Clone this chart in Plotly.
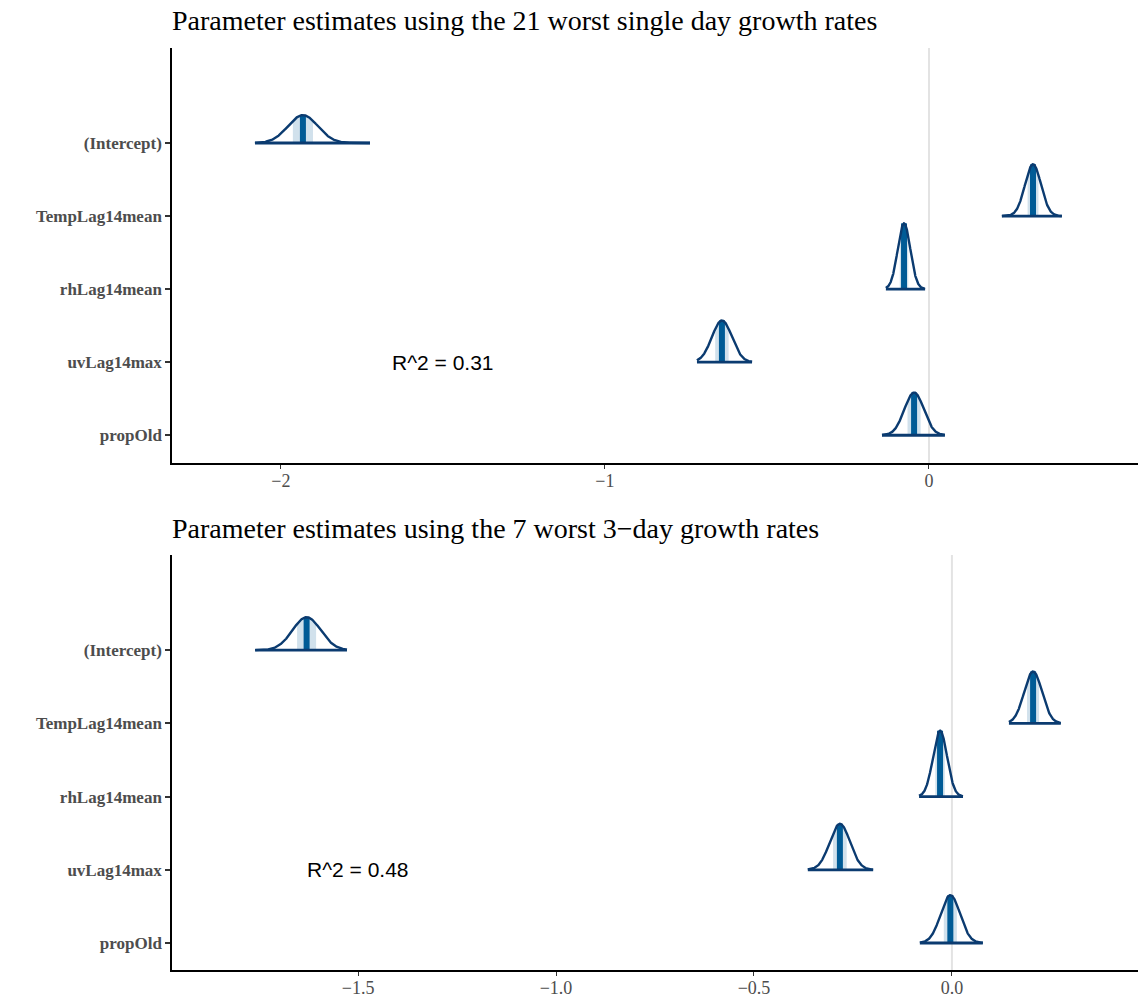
import numpy as np
import plotly.graph_objects as go

# ---------------- data ----------------
params = ["(Intercept)", "TempLag14mean", "rhLag14mean", "uvLag14max", "propOld"]

titles = ["Parameter estimates using the 21 worst single day growth rates",
          "Parameter estimates using the 7 worst 3\u2212day growth rates"]
r2_text = ["R^2 = 0.31", "R^2 = 0.48"]

# panel 1 : posterior medians, spreads and draw ranges
med1 = [-1.932, 0.321, -0.077, -0.639, -0.046]
sd1 = [0.046, 0.0248, 0.0195, 0.0307, 0.030]
lo1 = [-2.080, 0.225, -0.133, -0.716, -0.145]
hi1 = [-1.725, 0.410, -0.012, -0.546, 0.049]

# panel 2
med2 = [-1.630, 0.205, -0.030, -0.283, -0.004]
sd2 = [0.0356, 0.0226, 0.0178, 0.0255, 0.0245]
lo2 = [-1.760, 0.144, -0.083, -0.364, -0.081]
hi2 = [-1.528, 0.275, 0.028, -0.199, 0.078]

xticks1 = [-2, -1, 0]
xticklabels1 = ["\u22122", "\u22121", "0"]
xticks2 = [-1.5, -1.0, -0.5, 0.0]
xticklabels2 = ["\u22121.5", "\u22121.0", "\u22120.5", "0.0"]

# ---------------- styling ----------------
W, H = 1138, 1000
LIGHT = "#d1e1ec"
MID_HI = "#005b96"
DARK = "#0b3b70"
SERIF = "Liberation Serif, Times New Roman, serif"
SANS = "Liberation Sans, Arial, sans-serif"

panels = [
    dict(med=med1, sd=sd1, lo=lo1, hi=hi1, xr=[-2.336, 0.645],
         tv=xticks1, tt=xticklabels1, ytop=48, ybot=463, yr=[0.62, 6.30],
         title_y=20),
    dict(med=med2, sd=sd2, lo=lo2, hi=hi2, xr=[-1.970, 0.470],
         tv=xticks2, tt=xticklabels2, ytop=555, ybot=970, yr=[0.631, 6.30],
         title_y=528),
]

rows = list(range(len(params), 0, -1))  # Intercept at top

fig = go.Figure()
annotations = []
shapes = []

for pi, p in enumerate(panels):
    xa = "x" if pi == 0 else "x2"
    ya = "y" if pi == 0 else "y2"
    sds = np.array(p["sd"])
    peaks = 1.0 / (sds * np.sqrt(2 * np.pi))
    scale = 0.90 / peaks.max()  # equal-area ridges, tallest ~0.9 row

    def dens(x, m, s):
        return scale * np.exp(-0.5 * ((x - m) / s) ** 2) / (s * np.sqrt(2 * np.pi))

    for i, name in enumerate(params):
        m, s, lo, hi, r = p["med"][i], p["sd"][i], p["lo"][i], p["hi"][i], rows[i]
        # inner 50% area
        q25, q75 = m - 0.6745 * s, m + 0.6745 * s
        xi = np.linspace(q25, q75, 60)
        yi = r + dens(xi, m, s)
        fig.add_trace(go.Scatter(
            x=np.concatenate([xi, [q75, q25]]),
            y=np.concatenate([yi, [r, r]]),
            fill="toself", fillcolor=LIGHT, line=dict(width=0),
            mode="lines", hoverinfo="skip", showlegend=False,
            xaxis=xa, yaxis=ya))
        # median segment
        fig.add_trace(go.Scatter(
            x=[m, m], y=[r, r + dens(m, m, s)],
            mode="lines", line=dict(color=MID_HI, width=6),
            hoverinfo="skip", showlegend=False, xaxis=xa, yaxis=ya))
        # outer density curve
        xo = np.linspace(lo, hi, 300)
        fig.add_trace(go.Scatter(
            x=xo, y=r + dens(xo, m, s), mode="lines",
            line=dict(color=DARK, width=2.4),
            hoverinfo="skip", showlegend=False, xaxis=xa, yaxis=ya))
        # baseline
        fig.add_trace(go.Scatter(
            x=[lo, hi], y=[r, r], mode="lines",
            line=dict(color=DARK, width=2.8),
            hoverinfo="skip", showlegend=False, xaxis=xa, yaxis=ya))

    # zero reference line
    shapes.append(dict(type="line", xref=xa, yref=f"{ya} domain",
                       x0=0, x1=0, y0=0, y1=1, layer="below",
                       line=dict(color="#e3e3e3", width=2)))
    # title
    annotations.append(dict(text=titles[pi], xref="paper", yref="paper",
                            x=170 / W, y=1 - p["title_y"] / H,
                            xanchor="left", yanchor="middle", showarrow=False,
                            font=dict(family=SERIF, size=28, color="black")))
    # R^2 label
    annotations.append(dict(text=r2_text[pi], xref=xa, yref=ya,
                            x=-1.5, y=rows[params.index("uvLag14max")],
                            xanchor="center", yanchor="middle", showarrow=False,
                            font=dict(family=SANS, size=21, color="black")))

def xaxis_cfg(p, anchor):
    return dict(domain=[172 / W, 1.0], range=p["xr"], anchor=anchor,
                tickvals=p["tv"], ticktext=p["tt"], showgrid=False,
                zeroline=False, showline=True, linecolor="black", linewidth=1.5,
                ticks="outside", ticklen=4, tickwidth=1.2, tickcolor="#333333",
                ticklabelstandoff=-3,
                tickfont=dict(family=SERIF, size=18, color="#4d4d4d"),
                automargin=False, fixedrange=True)

def yaxis_cfg(p, anchor):
    return dict(domain=[1 - p["ybot"] / H, 1 - p["ytop"] / H], range=p["yr"],
                anchor=anchor, tickvals=rows, ticktext=params, showgrid=False,
                zeroline=False, showline=True, linecolor="black", linewidth=1.5,
                ticks="outside", ticklen=5, tickwidth=2, tickcolor="#333333",
                tickfont=dict(family=SERIF, size=17, color="#4d4d4d", weight="bold"),
                automargin=False, fixedrange=True)

fig.update_layout(
    width=W, height=H,
    margin=dict(l=0, r=0, t=0, b=0),
    paper_bgcolor="white", plot_bgcolor="white",
    xaxis=xaxis_cfg(panels[0], "y"),
    yaxis=yaxis_cfg(panels[0], "x"),
    xaxis2=xaxis_cfg(panels[1], "y2"),
    yaxis2=yaxis_cfg(panels[1], "x2"),
    annotations=annotations,
    shapes=shapes,
    showlegend=False,
)

fig.write_html("out.html",
               config={"displayModeBar": False},
               post_script="document.body.style.margin='0px';"
                           "document.body.style.overflow='hidden';")
